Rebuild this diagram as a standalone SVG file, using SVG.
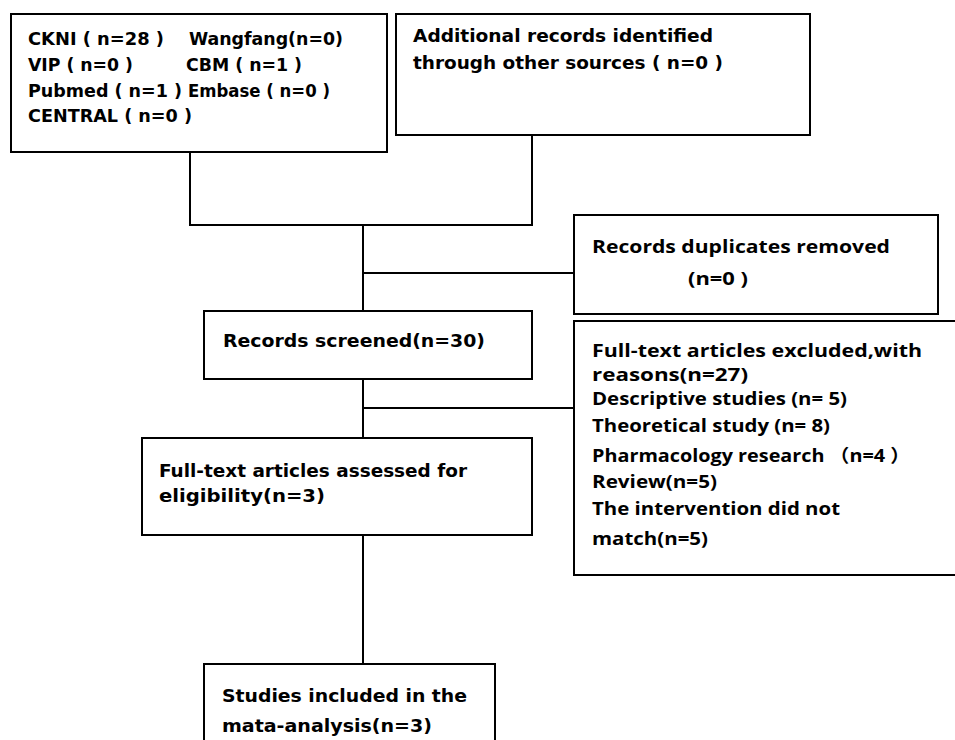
<svg xmlns="http://www.w3.org/2000/svg" width="955" height="740" viewBox="0 0 955 740">
<style>
.box{fill:#fff;stroke:#000;stroke-width:2}
.ln{fill:none;stroke:#000;stroke-width:2}
.v{font-family:"DejaVu Sans Condensed","DejaVu Sans",sans-serif;font-weight:bold;font-size:17.5px;fill:#000}
.c{font-family:"Open Sans","Lato","Noto Sans CJK SC",sans-serif;font-weight:bold;font-size:18px;fill:#000}
</style>
<rect width="955" height="740" fill="#fff"/>
<g id="connectors">
<path class="ln" d="M190 152V225H532V135"/>
<path class="ln" d="M363 225V311"/>
<path class="ln" d="M363 273H574"/>
<path class="ln" d="M363 379V438"/>
<path class="ln" d="M363 408H574"/>
<path class="ln" d="M363 535V664"/>
</g>
<g id="databases">
<rect class="box" x="11" y="14" width="376" height="138"/>
<text class="v" x="28" y="45" textLength="136" lengthAdjust="spacingAndGlyphs">CKNI ( n=28 )</text>
<text class="v" x="189" y="45" textLength="154" lengthAdjust="spacingAndGlyphs">Wangfang(n=0)</text>
<text class="v" x="28" y="71" textLength="105" lengthAdjust="spacingAndGlyphs">VIP ( n=0 )</text>
<text class="v" x="186" y="71" textLength="116" lengthAdjust="spacingAndGlyphs">CBM ( n=1 )</text>
<text class="v" x="28" y="97" textLength="154" lengthAdjust="spacingAndGlyphs">Pubmed ( n=1 )</text>
<text class="v" x="188" y="97" textLength="142" lengthAdjust="spacingAndGlyphs">Embase ( n=0 )</text>
<text class="v" x="28" y="122" textLength="164" lengthAdjust="spacingAndGlyphs">CENTRAL ( n=0 )</text>
</g>
<g id="additional">
<rect class="box" x="396" y="14" width="414" height="121"/>
<text class="v" x="413" y="42" textLength="300" lengthAdjust="spacingAndGlyphs">Additional records identified</text>
<text class="v" x="413" y="69" textLength="310" lengthAdjust="spacingAndGlyphs">through other sources ( n=0 )</text>
</g>
<g id="duplicates">
<rect class="box" x="574" y="215" width="364" height="99"/>
<text class="c" x="592" y="253" textLength="298" lengthAdjust="spacingAndGlyphs">Records duplicates removed</text>
<text class="c" x="688" y="285" textLength="60" lengthAdjust="spacingAndGlyphs">(n=0 )</text>
</g>
<g id="screened">
<rect class="box" x="204" y="311" width="328" height="68"/>
<text class="v" x="223" y="347" textLength="262" lengthAdjust="spacingAndGlyphs">Records screened(n=30)</text>
</g>
<g id="excluded">
<rect class="box" x="574" y="321" width="390" height="254"/>
<text class="c" x="592" y="357" textLength="330" lengthAdjust="spacingAndGlyphs">Full-text articles excluded,with</text>
<text class="c" x="592" y="381" textLength="156" lengthAdjust="spacingAndGlyphs">reasons(n=27)</text>
<text class="c" x="592" y="405" textLength="255" lengthAdjust="spacingAndGlyphs">Descriptive studies (n= 5)</text>
<text class="c" x="592" y="432" textLength="238" lengthAdjust="spacingAndGlyphs">Theoretical study (n= 8)</text>
<text class="c" x="592" y="462" textLength="318" lengthAdjust="spacingAndGlyphs">Pharmacology research （n=4 ）</text>
<text class="c" x="592" y="488" textLength="125" lengthAdjust="spacingAndGlyphs">Review(n=5)</text>
<text class="c" x="592" y="515" textLength="248" lengthAdjust="spacingAndGlyphs">The intervention did not</text>
<text class="c" x="592" y="545" textLength="116" lengthAdjust="spacingAndGlyphs">match(n=5)</text>
</g>
<g id="assessed">
<rect class="box" x="142" y="438" width="390" height="97"/>
<text class="v" x="159" y="477" textLength="308" lengthAdjust="spacingAndGlyphs">Full-text articles assessed for</text>
<text class="v" x="159" y="502" textLength="166" lengthAdjust="spacingAndGlyphs">eligibility(n=3)</text>
</g>
<g id="included">
<rect class="box" x="204" y="664" width="291" height="100"/>
<text class="v" x="222" y="702" textLength="245" lengthAdjust="spacingAndGlyphs">Studies included in the</text>
<text class="v" x="222" y="732" textLength="210" lengthAdjust="spacingAndGlyphs">mata-analysis(n=3)</text>
</g>
</svg>
